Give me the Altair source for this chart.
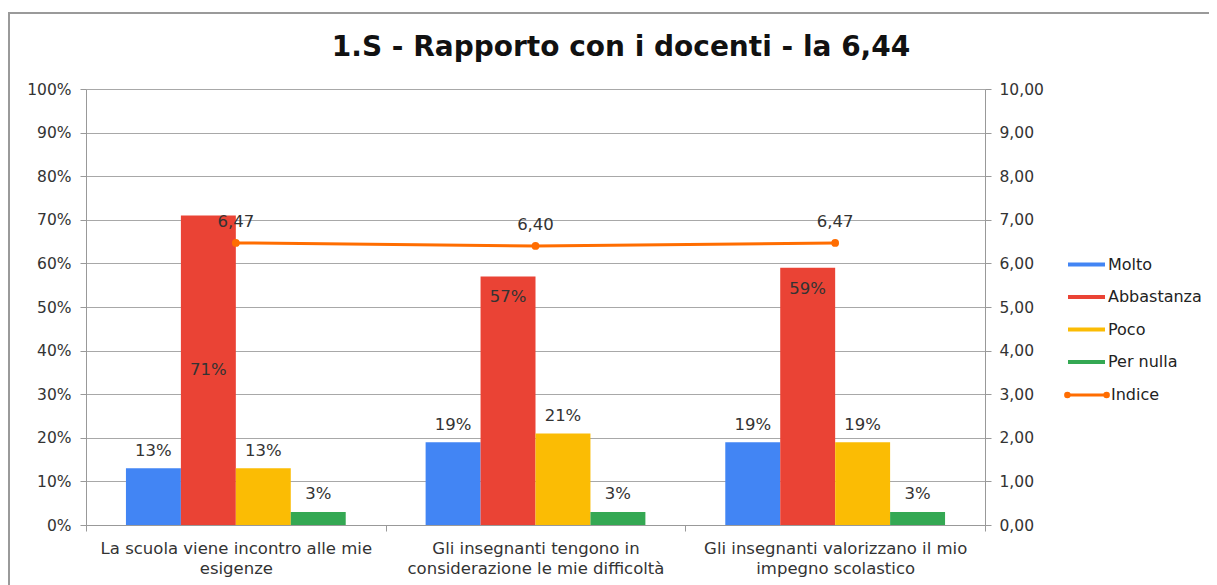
import altair as alt
import pandas as pd

title_text = "1.S - Rapporto con i docenti - la 6,44"
categories = [
    "La scuola viene incontro alle mie\nesigenze",
    "Gli insegnanti tengono in\nconsiderazione le mie difficoltà",
    "Gli insegnanti valorizzano il mio\nimpegno scolastico",
]
series = ["Molto", "Abbastanza", "Poco", "Per nulla"]
molto = [0.13, 0.19, 0.19]
abbastanza = [0.71, 0.57, 0.59]
poco = [0.13, 0.21, 0.19]
per_nulla = [0.03, 0.03, 0.03]
indice = [6.47, 6.40, 6.47]
bar_colors = ["#4285F4", "#EA4335", "#FBBC04", "#34A853"]
line_color = "#FF6D01"
FONT = "DejaVu Sans"

rows = []
for s, vals in zip(series, [molto, abbastanza, poco, per_nulla]):
    for c, v in zip(categories, vals):
        if s == "Abbastanza":
            ly = v / 2 if v >= 0.7 else v - 0.048
        else:
            ly = v + 0.04
        rows.append({"cat": c, "serie": s, "val": v, "label_y": ly})
bars_df = pd.DataFrame(rows)
line_df = pd.DataFrame({"cat": categories, "indice": indice, "nome": ["Indice"] * 3})
deco_df = pd.DataFrame({"t": [title_text]})

xscale = alt.Scale(domain=categories, paddingInner=0, paddingOuter=0)
xenc = alt.X(
    "cat:N",
    sort=categories,
    scale=xscale,
    title=None,
    axis=alt.Axis(
        labelAngle=0,
        tickBand="extent",
        labelExpr="split(datum.label, '\\n')",
        labelFontSize=16.5,
        labelLineHeight=20,
        labelColor="#333",
        labelFont=FONT,
        labelPadding=9,
        labelLimit=0,
        tickSize=6,
        domainColor="#999",
        tickColor="#999",
        grid=False,
    ),
)
xoff = alt.XOffset("serie:N", sort=series, scale=alt.Scale(domain=series, paddingInner=0, paddingOuter=0.727))

yleft = alt.Y(
    "val:Q",
    scale=alt.Scale(domain=[0, 1], nice=False),
    title=None,
    axis=alt.Axis(
        format=".0%",
        values=[i / 10 for i in range(11)],
        labelFontSize=15.5,
        labelColor="#333",
        labelFont=FONT,
        tickSize=6,
        labelPadding=9,
        domainColor="#999",
        tickColor="#999",
        gridColor="#a8a8a8",
        grid=True,
    ),
)

border = alt.Chart(deco_df).mark_rect(fillOpacity=0, stroke="#9a9a9a", strokeWidth=2).encode(
    x=alt.value(-77), x2=alt.value(1140), y=alt.value(-76), y2=alt.value(540)
)
title_mark = alt.Chart(deco_df).mark_text(
    fontSize=28, fontWeight="bold", font=FONT, color="#111", align="center", baseline="middle"
).encode(x=alt.value(535), y=alt.value(-41), text="t:N")

bars = alt.Chart(bars_df).mark_bar().encode(
    x=xenc,
    xOffset=xoff,
    y=yleft,
    color=alt.Color(
        "serie:N",
        sort=series,
        scale=alt.Scale(domain=series, range=bar_colors),
        legend=alt.Legend(
            title=None,
            orient="none",
            legendX=982,
            legendY=157,
            symbolType="M-1,-0.11H1V0.11H-1Z",
            symbolSize=1369,
            symbolStrokeWidth=0,
            labelFontSize=16,
            labelFont=FONT,
            labelColor="#222",
            labelOffset=3,
            rowPadding=5.5,
            direction="vertical",
        ),
    ),
)

bar_labels = alt.Chart(bars_df).mark_text(fontSize=16.5, font=FONT, color="#333", baseline="middle").encode(
    x=alt.X("cat:N", sort=categories, scale=xscale),
    xOffset=xoff,
    y=alt.Y("label_y:Q", scale=alt.Scale(domain=[0, 1], nice=False)),
    text=alt.Text("val:Q", format=".0%"),
)

bar_layer = alt.layer(bars, bar_labels)

yright = alt.Y(
    "indice:Q",
    scale=alt.Scale(domain=[0, 10], nice=False),
    title=None,
    axis=alt.Axis(
        orient="right",
        values=list(range(11)),
        labelExpr="replace(format(datum.value, '.2f'), '.', ',')",
        labelFontSize=15.5,
        labelColor="#333",
        labelFont=FONT,
        tickSize=6,
        labelPadding=8,
        domainColor="#999",
        tickColor="#999",
        grid=False,
    ),
)

line = alt.Chart(line_df).mark_line(strokeWidth=3).encode(
    x=alt.X("cat:N", sort=categories, scale=xscale),
    y=yright,
    stroke=alt.Stroke(
        "nome:N",
        scale=alt.Scale(domain=["Indice"], range=[line_color]),
        legend=alt.Legend(
            title=None,
            orient="none",
            legendX=977,
            legendY=282,
            symbolType="M-1,0H1M-0.95,0a0.08,0.08 0 1,0 0.16,0a0.08,0.08 0 1,0 -0.16,0M0.79,0a0.08,0.08 0 1,0 0.16,0a0.08,0.08 0 1,0 -0.16,0",
            symbolSize=2025,
            symbolStrokeWidth=3,
            symbolFillColor=line_color,
            labelFontSize=16,
            labelFont=FONT,
            labelColor="#222",
            labelOffset=0,
        ),
    ),
)
points = alt.Chart(line_df).mark_point(filled=True, size=60, color=line_color, opacity=1).encode(
    x=alt.X("cat:N", sort=categories, scale=xscale),
    y=alt.Y("indice:Q", scale=alt.Scale(domain=[0, 10], nice=False)),
)
line_labels = alt.Chart(line_df).mark_text(fontSize=16.5, font=FONT, color="#333", dy=-21).encode(
    x=alt.X("cat:N", sort=categories, scale=xscale),
    y=alt.Y("indice:Q", scale=alt.Scale(domain=[0, 10], nice=False)),
    text="lbl:N",
).transform_calculate(lbl="replace(format(datum.indice, '.2f'), '.', ',')")

line_layer = alt.layer(line, points, line_labels)

chart = (
    alt.layer(border, title_mark, bar_layer, line_layer)
    .resolve_scale(y="independent", color="independent")
    .properties(
        width=899,
        height=436,
        autosize=alt.AutoSizeParams(type="none"),
        padding={"left": 78, "top": 81, "right": 224, "bottom": 68},
    )
    .configure_view(stroke=None)
    .configure(background="white")
)

chart.save("out.html", embed_options={"renderer": "svg", "actions": False})
